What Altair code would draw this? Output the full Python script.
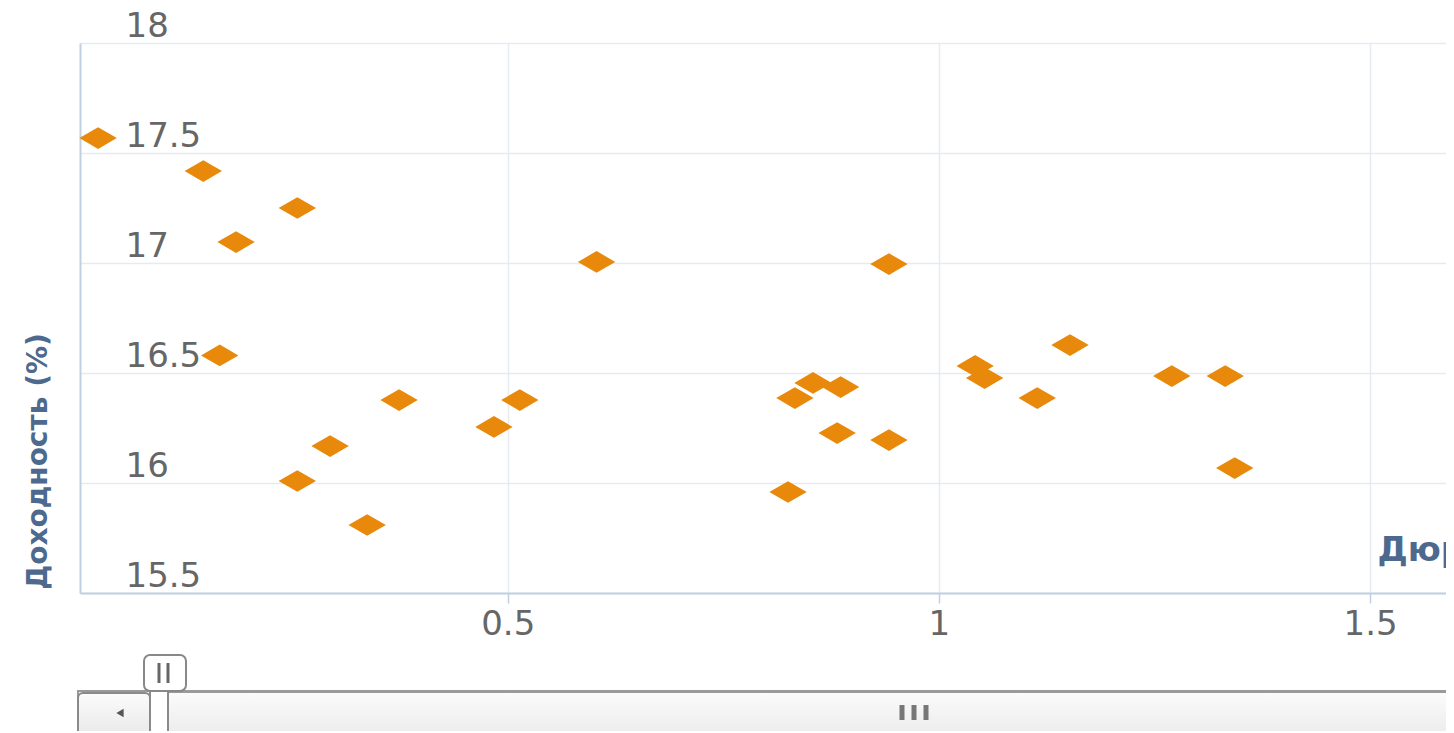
import altair as alt
import pandas as pd

# Data (duration in years, yield in %)
duration = [0.025, 0.147, 0.256, 0.185, 0.603, 0.942, 0.166, 1.152, 1.042, 1.053,
            1.270, 1.332, 1.114, 0.854, 0.886, 0.833, 0.374, 0.514, 0.484, 0.882,
            0.942, 0.294, 0.256, 0.825, 1.343, 0.337]
yield_pct = [17.568, 17.418, 17.250, 17.095, 17.005, 16.995, 16.580, 16.627, 16.532, 16.477,
             16.486, 16.486, 16.386, 16.455, 16.436, 16.386, 16.377, 16.377, 16.255, 16.227,
             16.195, 16.168, 16.009, 15.959, 16.068, 15.809]
x_ticks = [0.5, 1, 1.5]
y_ticks = [15.5, 16, 16.5, 17, 17.5, 18]
x_title = "Дюрация (лет)"
y_title = "Доходность (%)"

df = pd.DataFrame({"d": duration, "y": yield_pct})

AXIS_COL = "#C0D0E0"
GRID_COL = "#E6EBF1"
LABEL_COL = "#666666"
TITLE_COL = "#4D6A8E"
FONT = "DejaVu Sans"

diamond = "M -1 0 L 0 -0.58 L 1 0 L 0 0.58 Z"

points = alt.Chart(df).mark_point(
    shape=diamond, filled=True, size=1400, color="#E8890C", opacity=1, strokeWidth=0
).encode(
    x=alt.X("d:Q",
            scale=alt.Scale(domain=[0.004, 1.588], nice=False, zero=False),
            axis=alt.Axis(values=x_ticks, format="~g", title=x_title,
                          titleX=1297, titleY=-33, titleAlign="left",
                          titleBaseline="alphabetic", titleAnchor="start",
                          titleFont=FONT, titleFontSize=34, titleFontWeight="bold",
                          titleColor=TITLE_COL,
                          labelFont=FONT, labelFontSize=34, labelColor=LABEL_COL,
                          labelPadding=4, ticks=True, tickSize=10, tickColor=AXIS_COL,
                          tickWidth=1.5, domainColor=AXIS_COL, domainWidth=2,
                          grid=True, gridColor=GRID_COL, gridWidth=1.5,
                          labelFlush=False, labelOverlap=False)),
    y=alt.Y("y:Q",
            scale=alt.Scale(domain=[15.5, 18], nice=False, zero=False),
            axis=alt.Axis(values=y_ticks, format="~g", title=y_title,
                          titleX=-42, titleY=418, titleAngle=-90, titleAlign="center",
                          titleBaseline="middle",
                          titleFont=FONT, titleFontSize=28, titleFontWeight="bold",
                          titleColor=TITLE_COL,
                          labelFont=FONT, labelFontSize=34, labelColor=LABEL_COL,
                          labelAlign="left", labelBaseline="alphabetic",
                          labelPadding=-45, labelOffset=-7, ticks=False, tickSize=0,
                          domainColor=AXIS_COL, domainWidth=2,
                          grid=True, gridColor=GRID_COL, gridWidth=1.5,
                          labelFlush=False, labelOverlap=False)),
)

one = alt.Data(values=[{"k": 1}])

def grad(c1, c2):
    return alt.Gradient(gradient="linear",
                        stops=[alt.GradientStop(color=c1, offset=0),
                               alt.GradientStop(color=c2, offset=1)],
                        x1=0, x2=0, y1=0, y2=1)

# Scrollbar / navigator chrome beneath the plot (plot-area pixel coordinates)
track = alt.Chart(one).mark_rect(fill=grad("#f4f4f4", "#d8d8d8"), stroke="#9a9a9a",
                                  strokeWidth=2).encode(
    x=alt.value(-2), x2=alt.value(1400), y=alt.value(648), y2=alt.value(720))
thumb = alt.Chart(one).mark_rect(fill=grad("#fbfbfb", "#e2e2e2"), stroke="#9a9a9a",
                                  strokeWidth=2, cornerRadius=4).encode(
    x=alt.value(86), x2=alt.value(1400), y=alt.value(649), y2=alt.value(720))
button = alt.Chart(one).mark_rect(fill=grad("#fbfbfb", "#dedede"), stroke="#8a8a8a",
                                   strokeWidth=2, cornerRadius=5).encode(
    x=alt.value(-2), x2=alt.value(70), y=alt.value(650), y2=alt.value(720))
strip = alt.Chart(one).mark_rect(fill="#ffffff", stroke="#8a8a8a", strokeWidth=2).encode(
    x=alt.value(70), x2=alt.value(88), y=alt.value(640), y2=alt.value(720))
arrow = alt.Chart(one).mark_point(shape="triangle-left", filled=True, size=70,
                                   color="#555555", opacity=1).encode(
    x=alt.value(40), y=alt.value(670))
handle = alt.Chart(one).mark_rect(fill="#ffffff", stroke="#888888", strokeWidth=2,
                                   cornerRadius=6).encode(
    x=alt.value(64), x2=alt.value(106), y=alt.value(612), y2=alt.value(648))
grip_lines = []
for gx in [79, 88]:
    grip_lines.append(alt.Chart(one).mark_rule(color="#666666", strokeWidth=3).encode(
        x=alt.value(gx), y=alt.value(620), y2=alt.value(640)))
for gx in [822, 834, 846]:
    grip_lines.append(alt.Chart(one).mark_rule(color="#777777", strokeWidth=5).encode(
        x=alt.value(gx), y=alt.value(662), y2=alt.value(677)))

chart = alt.layer(points, track, thumb, button, strip, arrow, handle, *grip_lines).properties(
    width=1366, height=550,
    autosize=alt.AutoSizeParams(type="none"),
    padding={"left": 72, "top": 35, "right": 0, "bottom": 138},
    background="#ffffff",
).configure_view(stroke="transparent")

chart.save("out.html", embed_options={"renderer": "svg", "actions": False})
